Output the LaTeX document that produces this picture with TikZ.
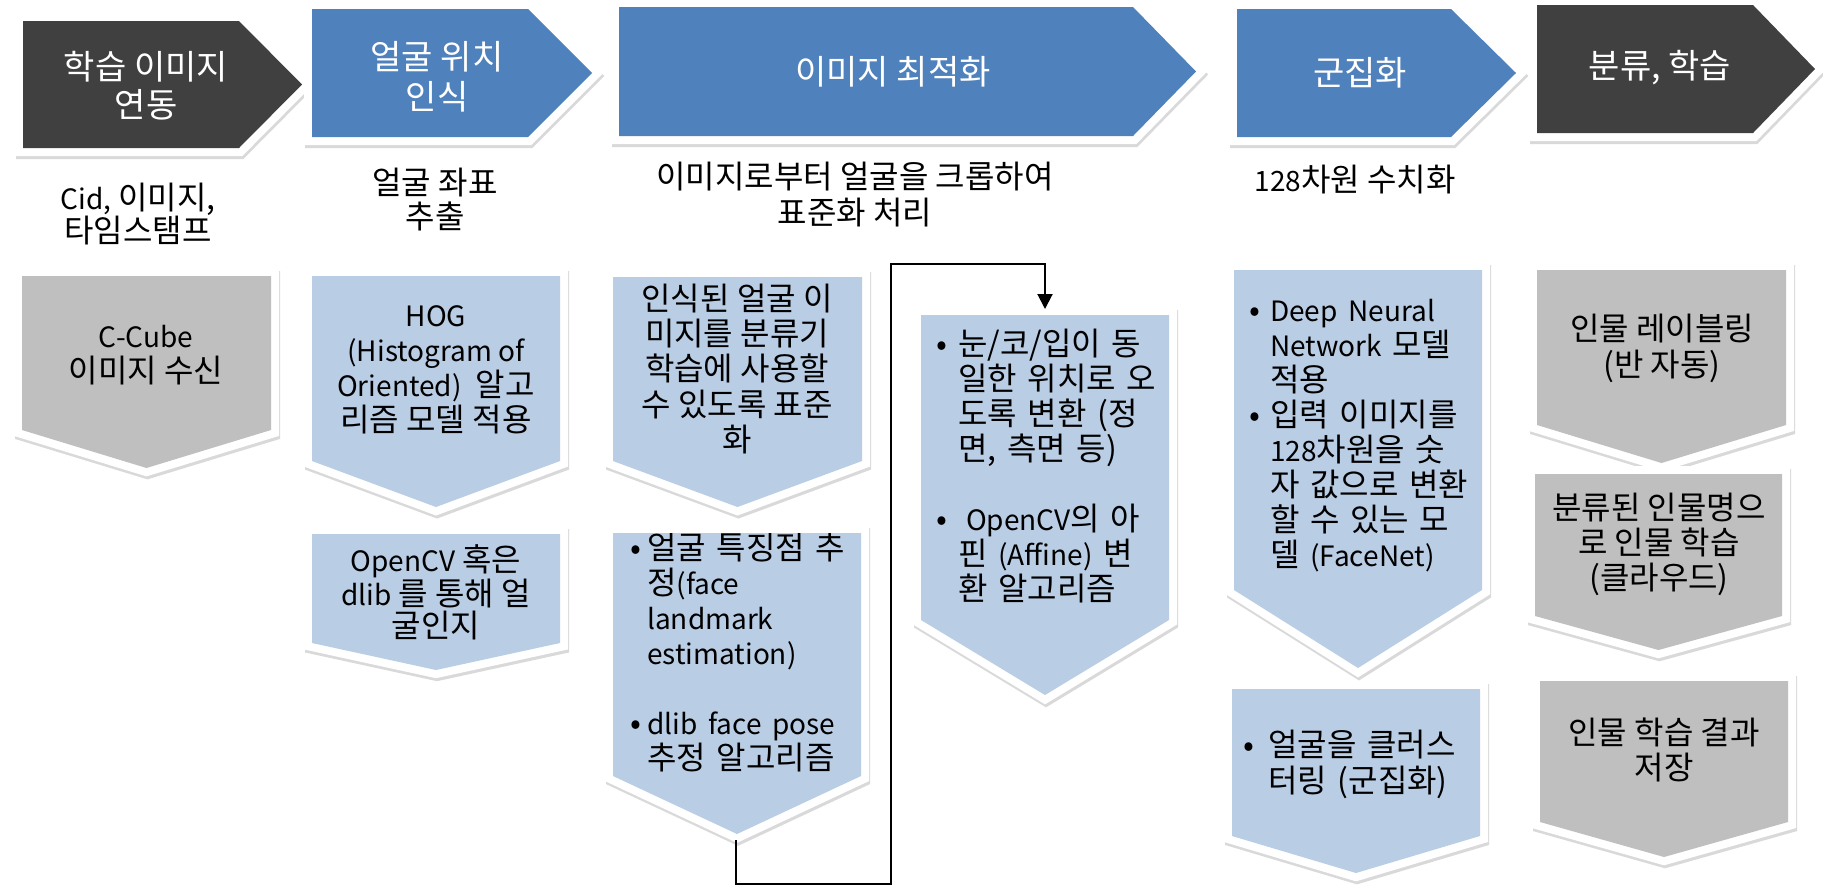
\documentclass[tikz,border=0pt]{standalone}
\usepackage{fontspec}
\setmainfont{Noto Sans CJK KR}
\newfontfamily\latfont{Noto Sans CJK KR}[Scale=0.875]
\usetikzlibrary{arrows.meta}
\definecolor{darkc}{HTML}{404040}
\definecolor{bluec}{HTML}{4F81BD}
\definecolor{lbluec}{HTML}{B9CDE5}
\definecolor{grayc}{HTML}{BFBFBF}
\definecolor{shadowc}{HTML}{D9D9D9}
\newcommand\lat[1]{{\latfont #1}}
\newcommand\drawshape[2]{%
  \path[shadowsty, shift={(1,3)}] #2;
  \path[borderw] #2;
  \fill[#1] #2;}
\newcommand\chevR[6]{\drawshape{#1}{(#2,#3) -- (#4,#3) -- (#6,{(#3+#5)/2}) -- (#4,#5) -- (#2,#5) -- cycle}}
\newcommand\penD[6]{\drawshape{#1}{(#2,#3) -- (#4,#3) -- (#4,#5) -- ({(#2+#4)/2},#6) -- (#2,#5) -- cycle}}
\newcommand\bitem[2][19pt]{\hangindent=#1\hangafter=1\noindent\makebox[#1][l]{•}#2\par}
\tikzset{
  shadowsty/.style={draw=shadowc, fill=shadowc, line width=16pt, line join=miter},
  borderw/.style={draw=white, fill=white, line width=16pt, line join=miter},
  ttl/.style={text=white, font=\fontsize{34}{#1}\selectfont, align=center, inner sep=0pt},
  ttl/.default=39,
  bx/.style={font=\fontsize{32}{#1}\selectfont, align=center, inner sep=0pt},
  bx/.default=35,
  blist/.style={font=\fontsize{32}{#1}\selectfont, align=left, text width=330pt, inner sep=0pt, anchor=base west},
  blist/.default=35,
  conn/.style={draw=black, line width=2pt, -{Triangle[length=15pt,width=15pt]}}
}
\begin{document}
\begin{tikzpicture}[x=1pt,y=-1pt]
\useasboundingbox (0,0) rectangle (1823,884);
% top chevrons
\chevR{darkc}{23}{21}{239}{148}{302}
\chevR{bluec}{312}{9}{528}{137}{592}
\chevR{bluec}{619}{7}{1133}{136}{1196}
\chevR{bluec}{1237}{9}{1451}{137}{1516}
\chevR{darkc}{1537}{5}{1753}{133}{1815}
% down pentagons
\penD{grayc}{22}{276}{271}{430}{468}
\penD{lbluec}{312}{276}{560}{461}{507}
\penD{lbluec}{312}{534}{560}{643}{670}
\penD{lbluec}{613}{277}{862}{461}{507}
\penD{lbluec}{613}{533}{861}{776}{834}
\penD{lbluec}{921}{315}{1169}{620}{695}
\penD{lbluec}{1234}{270}{1482}{590}{668}
\penD{lbluec}{1232}{689}{1480}{836}{873}
\penD{grayc}{1537}{270}{1786}{425}{463}
\penD{grayc}{1535}{474}{1782}{616}{650}
\penD{grayc}{1540}{681}{1788}{822}{857}
% titles
\node[ttl=38] (t1) at (146,86) {학습 이미지\\연동};
\node[ttl=40] (t2) at (437,77) {얼굴 위치\\인식};
\node[ttl] (t3) at (893,72) {이미지 최적화};
\node[ttl] (t4) at (1360,73) {군집화};
\node[ttl] (t5) at (1660,68) {분류, 학습};
% labels
\node[bx=32] (l1) at (138,214) {\lat{Cid,} 이미지,\\타임스탬프};
\node[bx=34] (l2) at (435,200) {얼굴 좌표\\추출};
\node[bx=36] (l3) at (855,195) {이미지로부터 얼굴을 크롭하여\\표준화 처리};
\node[bx] (l4) at (1355,180) {\lat{128}차원 수치화};
% box texts
\node[bx=35] (b1) at (146,355) {\lat{C-Cube}\\이미지 수신};
\node[bx=35] (b2) at (436,370) {\lat{HOG}\\\lat{(Histogram of}\\\lat{Oriented)}\ \ 알고\\리즘 모델 적용};
\node[bx=32] (b3) at (436,592) {\lat{OpenCV} 혹은\\\lat{dlib} 를 통해 얼\\굴인지};
\node[bx=35.4] (b4) at (737,369) {인식된 얼굴 이\\미지를 분류기\\학습에 사용할\\수 있도록 표준\\화};
\begin{scope}
\clip (613,533) rectangle (861,840);
\node[blist] (b5) at (630,559) {\bitem[17pt]{얼굴 특징점 추\newline 정\lat{(face}\newline \lat{landmark}\newline \lat{estimation)}}\vskip 35pt
\bitem[17pt]{\lat{dlib face pose}\newline 추정 알고리즘}};
\end{scope}
\node[blist] (b6) at (936,355) {\bitem[22pt]{눈/코/입이 동\newline 일한 위치로 오\newline 도록 변환 (정\newline 면, 측면 등)}\vskip 35pt
\bitem[22pt]{\hspace{8pt}\lat{OpenCV}의 아\newline 핀 \lat{(Affine)} 변\newline 환 알고리즘}};
\node[blist] (b7) at (1249,321) {\bitem[21pt]{\lat{Deep Neural}\newline \lat{Network} 모델\newline 적용}\bitem[21pt]{입력 이미지를\newline \lat{128}차원을 숫\newline 자 값으로 변환\newline 할 수 있는 모\newline 델 \lat{(FaceNet)}}};
\node[blist=36] (b8) at (1243,756) {\bitem[25pt]{얼굴을 클러스\newline 터링 (군집화)}};
\node[bx=36] (b9) at (1662,348) {인물 레이블링\\(반 자동)};
\node[bx=35] (b10) at (1659,544) {분류된 인물명으\\로 인물 학습\\(클라우드)};
\node[bx=35] (b11) at (1664,750) {인물 학습 결과\\저장};
% connector
\coordinate (d5tip) at (736,840);
\coordinate (d6top) at (1045,309);
\draw[conn] (d5tip) -- ++(0,44) -- ++(155,0) -- ++(0,-620) -| (d6top);
\end{tikzpicture}
\end{document}
